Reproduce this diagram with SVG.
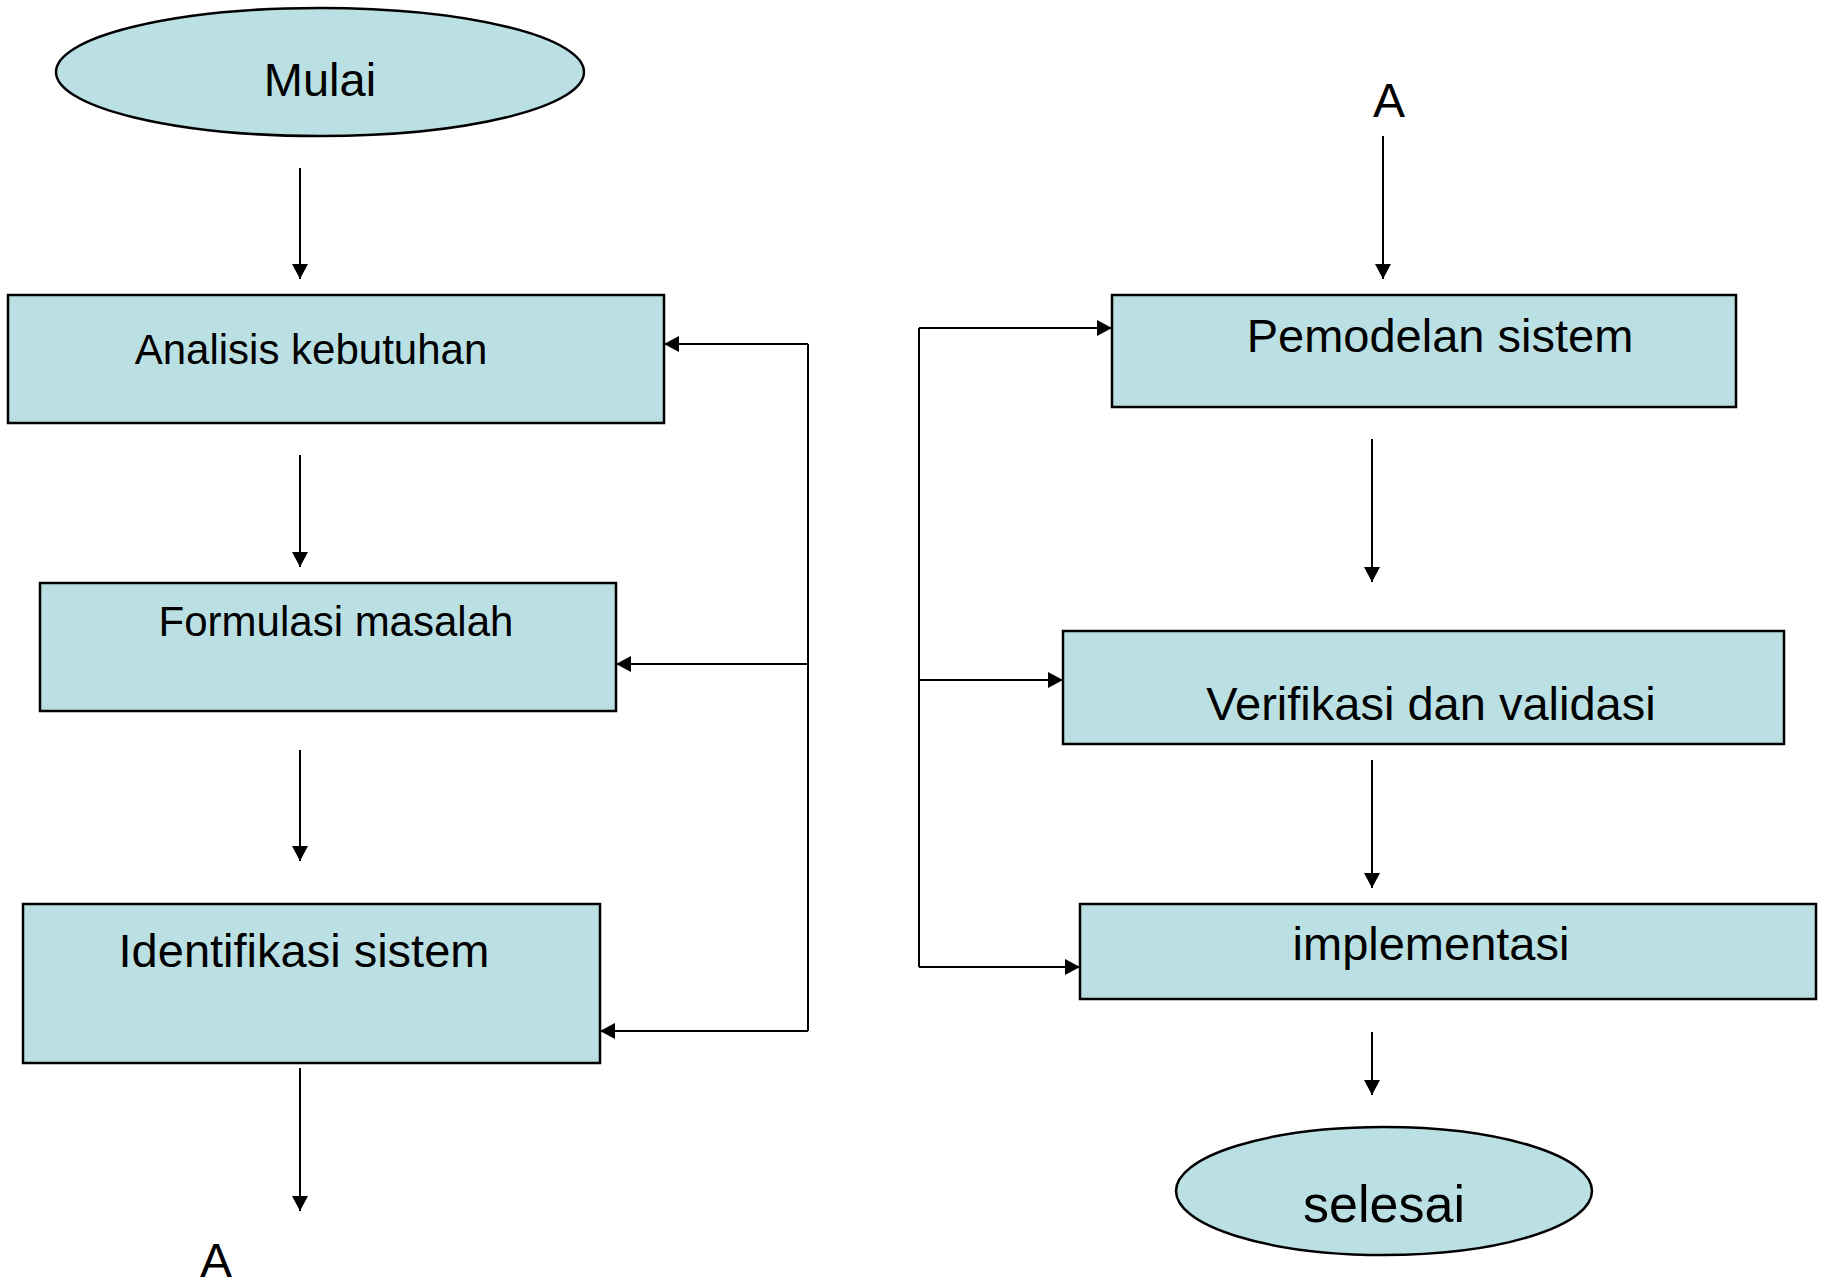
<svg xmlns="http://www.w3.org/2000/svg" width="1822" height="1284" viewBox="0 0 1822 1284">
<style>
.node{fill:#BBE0E3;stroke:#000;stroke-width:2.5}
.lbl{font-family:"Liberation Sans",Arial,sans-serif;fill:#000;text-anchor:middle}
.con{fill:none;stroke:#000;stroke-width:2}
</style>
<defs>
<marker id="arr" viewBox="0 0 15 16" refX="15" refY="8" markerWidth="15" markerHeight="16" orient="auto" markerUnits="userSpaceOnUse">
<path d="M0,0 L15,8 L0,16 z" fill="#000"/>
</marker>
</defs>
<rect width="1822" height="1284" fill="#fff"/>
<g id="mulai">
<ellipse class="node" cx="320" cy="72" rx="264" ry="64"/>
<text class="lbl" x="320" y="96" font-size="47">Mulai</text>
</g>
<g id="analisis">
<rect class="node" x="8" y="295" width="656" height="128"/>
<text class="lbl" x="311" y="364" font-size="42">Analisis kebutuhan</text>
</g>
<g id="formulasi">
<rect class="node" x="40" y="583" width="576" height="128"/>
<text class="lbl" x="336" y="636" font-size="42">Formulasi masalah</text>
</g>
<g id="identifikasi">
<rect class="node" x="23" y="904" width="577" height="159"/>
<text class="lbl" x="304" y="967" font-size="47">Identifikasi sistem</text>
</g>
<g id="a-out">
<text class="lbl" x="216" y="1277" font-size="48">A</text>
</g>
<g id="a-in">
<text class="lbl" x="1389" y="117" font-size="48">A</text>
</g>
<g id="pemodelan">
<rect class="node" x="1112" y="295" width="624" height="112"/>
<text class="lbl" x="1440" y="352" font-size="47">Pemodelan sistem</text>
</g>
<g id="verifikasi">
<rect class="node" x="1063" y="631" width="721" height="113"/>
<text class="lbl" x="1431" y="720" font-size="47">Verifikasi dan validasi</text>
</g>
<g id="implementasi">
<rect class="node" x="1080" y="904" width="736" height="95"/>
<text class="lbl" x="1431" y="960" font-size="47">implementasi</text>
</g>
<g id="selesai">
<ellipse class="node" cx="1384" cy="1191" rx="208" ry="64"/>
<text class="lbl" x="1384" y="1222" font-size="52">selesai</text>
</g>
<g id="connectors">
<path class="con" d="M300,168 V279" marker-end="url(#arr)"/>
<path class="con" d="M300,455 V567" marker-end="url(#arr)"/>
<path class="con" d="M300,750 V861" marker-end="url(#arr)"/>
<path class="con" d="M300,1068 V1211" marker-end="url(#arr)"/>
<path class="con" d="M808,344 V1031"/>
<path class="con" d="M808,344 H664" marker-end="url(#arr)"/>
<path class="con" d="M808,664 H616" marker-end="url(#arr)"/>
<path class="con" d="M808,1031 H600" marker-end="url(#arr)"/>
<path class="con" d="M1383,136 V279" marker-end="url(#arr)"/>
<path class="con" d="M1372,439 V582" marker-end="url(#arr)"/>
<path class="con" d="M1372,760 V888" marker-end="url(#arr)"/>
<path class="con" d="M1372,1032 V1095" marker-end="url(#arr)"/>
<path class="con" d="M919,328 V967"/>
<path class="con" d="M919,328 H1112" marker-end="url(#arr)"/>
<path class="con" d="M919,680 H1063" marker-end="url(#arr)"/>
<path class="con" d="M919,967 H1080" marker-end="url(#arr)"/>
</g>
</svg>
